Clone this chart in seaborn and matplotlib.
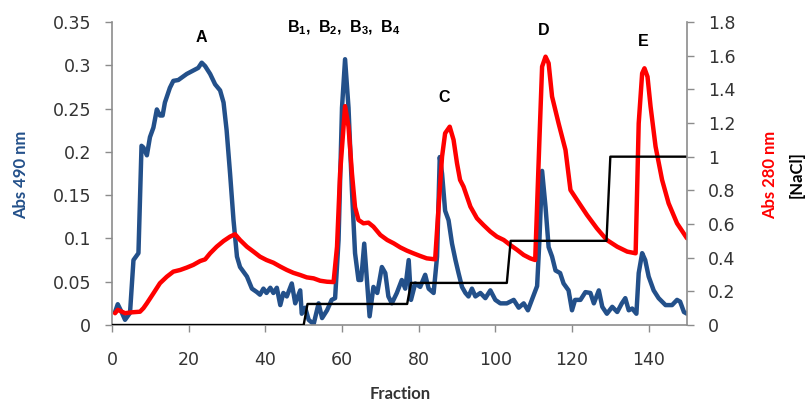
import matplotlib
matplotlib.use("Agg")
import matplotlib.pyplot as plt
import seaborn as sns

# ── Data ─────────────────────────────────────────────────────────────────────
# Abs 490 nm (left axis, blue)
blue_fraction = [
    0.8, 1.5, 2.5, 3.4, 4.7, 5.6, 6.9, 7.7, 8.2, 9.1, 9.9, 10.8, 11.7, 12.5, 13.2,
    13.8, 15.1, 16.0, 17.3, 19.5, 21.2, 22.5, 23.4, 24.3, 25.6, 26.9, 28.2, 29.1,
    29.9, 30.8, 31.7, 32.6, 33.4, 35.2, 36.5, 37.8, 38.6, 39.5, 40.3, 41.3, 42.1,
    43.0, 43.9, 44.7, 45.6, 46.9, 47.8, 49.1, 49.5, 50.4, 51.3, 52.6, 53.9, 54.8,
    56.1, 57.3, 58.2, 59.1, 60.0, 60.8, 61.7, 62.6, 63.4, 64.3, 65.0, 65.8, 66.5,
    67.2, 68.2, 69.2, 70.4, 71.3, 72.1, 73.0, 74.3, 75.6, 76.5, 77.4, 78.0, 79.1,
    80.4, 81.7, 82.6, 83.9, 84.8, 85.5, 86.1, 86.9, 87.8, 88.7, 89.6, 90.4, 91.3,
    92.2, 93.0, 93.9, 94.8, 96.1, 97.4, 98.7, 100.0, 101.3, 103.0, 104.8, 106.1,
    107.4, 108.5, 109.6, 110.9, 111.5, 112.2, 113.1, 113.9, 114.8, 115.7, 116.9,
    117.8, 119.1, 120.0, 120.8, 122.2, 123.5, 124.8, 125.7, 127.0, 127.9, 129.1,
    130.5, 131.8, 133.0, 133.9, 134.8, 135.7, 136.8, 137.4, 138.3, 139.1, 140.0,
    141.3, 142.6, 144.4, 146.1, 147.4, 148.2, 149.2, 150.0,
]
blue_abs490 = [
    0.015, 0.024, 0.015, 0.006, 0.014, 0.075, 0.083, 0.207, 0.205, 0.196, 0.217,
    0.228, 0.249, 0.242, 0.242, 0.257, 0.274, 0.282, 0.283, 0.290, 0.294, 0.297,
    0.303, 0.299, 0.290, 0.278, 0.271, 0.257, 0.225, 0.175, 0.121, 0.079, 0.067,
    0.056, 0.042, 0.038, 0.035, 0.042, 0.037, 0.043, 0.037, 0.043, 0.023, 0.037,
    0.033, 0.048, 0.025, 0.040, 0.013, 0.020, 0.006, 0.001, 0.025, 0.008, 0.017,
    0.029, 0.031, 0.098, 0.251, 0.307, 0.251, 0.155, 0.083, 0.052, 0.052, 0.094,
    0.052, 0.010, 0.044, 0.037, 0.067, 0.060, 0.033, 0.025, 0.037, 0.052, 0.042,
    0.075, 0.029, 0.048, 0.044, 0.058, 0.042, 0.037, 0.079, 0.194, 0.175, 0.132,
    0.121, 0.094, 0.075, 0.060, 0.044, 0.037, 0.033, 0.042, 0.033, 0.037, 0.031,
    0.040, 0.029, 0.025, 0.025, 0.029, 0.020, 0.025, 0.017, 0.030, 0.045, 0.098,
    0.178, 0.136, 0.090, 0.079, 0.063, 0.060, 0.048, 0.040, 0.017, 0.029, 0.029,
    0.038, 0.037, 0.025, 0.040, 0.021, 0.013, 0.021, 0.015, 0.025, 0.031, 0.017,
    0.019, 0.013, 0.060, 0.083, 0.075, 0.056, 0.040, 0.031, 0.023, 0.023, 0.029,
    0.027, 0.015, 0.013,
]

# Abs 280 nm (right axis, red)
red_fraction = [
    0.8, 1.5, 2.5, 3.4, 5.0, 7.3, 8.2, 9.1, 10.8, 12.5, 14.3, 16.0, 17.8, 19.5,
    21.2, 23.0, 24.3, 25.6, 27.3, 29.1, 30.8, 32.1, 33.4, 35.2, 36.9, 38.6, 40.3,
    42.1, 43.9, 45.6, 47.3, 49.1, 50.8, 52.6, 54.3, 56.1, 57.8, 58.7, 59.5, 60.8,
    61.7, 62.6, 63.4, 64.3, 65.6, 66.9, 68.2, 70.0, 71.8, 73.5, 75.2, 76.9, 78.6,
    80.4, 82.1, 84.3, 85.2, 86.1, 86.9, 88.1, 89.1, 90.0, 90.8, 91.7, 93.5, 95.2,
    96.9, 98.7, 100.4, 102.2, 103.9, 105.7, 107.4, 109.1, 110.4, 111.5, 112.2,
    113.1, 113.9, 114.8, 116.5, 118.3, 119.6, 121.3, 123.9, 126.5, 129.1, 131.8,
    134.4, 136.6, 137.4, 138.3, 138.9, 139.7, 140.5, 141.8, 143.5, 145.2, 147.4,
    150.0,
]
red_abs280 = [
    0.07, 0.09, 0.08, 0.07, 0.075, 0.079, 0.10, 0.129, 0.188, 0.248, 0.287, 0.317,
    0.327, 0.341, 0.357, 0.380, 0.39, 0.426, 0.465, 0.499, 0.525, 0.539, 0.505,
    0.465, 0.436, 0.406, 0.386, 0.37, 0.347, 0.327, 0.310, 0.297, 0.283, 0.277,
    0.263, 0.257, 0.255, 0.465, 0.90, 1.30, 1.178, 0.90, 0.70, 0.624, 0.604, 0.608,
    0.584, 0.535, 0.505, 0.485, 0.461, 0.442, 0.426, 0.41, 0.396, 0.39, 0.703, 1.0,
    1.139, 1.178, 1.10, 0.961, 0.862, 0.822, 0.703, 0.634, 0.594, 0.555, 0.525,
    0.505, 0.475, 0.446, 0.416, 0.396, 0.386, 1.10, 1.535, 1.594, 1.555, 1.357,
    1.198, 1.04, 0.802, 0.743, 0.654, 0.574, 0.505, 0.465, 0.436, 0.426, 1.198,
    1.495, 1.525, 1.475, 1.297, 1.06, 0.862, 0.723, 0.604, 0.515,
]

# [NaCl] step gradient (right axis, black)
nacl_fraction = [0, 50, 51, 77, 78, 103, 104, 129, 130, 150]
nacl_conc = [0, 0, 0.125, 0.125, 0.25, 0.25, 0.5, 0.5, 1.0, 1.0]

# Peak annotations
peak_labels = ["A", r"$\mathbf{B_1,\ B_2,\ B_3,\ B_4}$", "C", "D", "E"]
peak_x = [23.4, 60.3, 86.7, 112.6, 138.7]
peak_y = [0.332, 0.343, 0.263, 0.340, 0.328]

x_ticks = [0, 20, 40, 60, 80, 100, 120, 140]
left_ticks = [0, 0.05, 0.1, 0.15, 0.2, 0.25, 0.3, 0.35]
left_tick_labels = ["0", "0.05", "0.1", "0.15", "0.2", "0.25", "0.3", "0.35"]
right_ticks = [0, 0.2, 0.4, 0.6, 0.8, 1.0, 1.2, 1.4, 1.6, 1.8]
right_tick_labels = ["0", "0.2", "0.4", "0.6", "0.8", "1", "1.2", "1.4", "1.6", "1.8"]

# ── Style ────────────────────────────────────────────────────────────────────
BLUE = "#23508a"
RED = "#ff0000"
AXIS_GREY = "#8c8c8c"
TEXT = "#333333"

sns.set_style("white")
plt.rcParams["font.family"] = ["DejaVu Sans"]
plt.rcParams["mathtext.fontset"] = "custom"
plt.rcParams["mathtext.rm"] = "Liberation Sans"
plt.rcParams["mathtext.bf"] = "Liberation Sans:bold"

fig = plt.figure(figsize=(8.1, 4.01), dpi=100)
ax = fig.add_axes([112 / 810, 1 - 325 / 401, 575 / 810, 303 / 401])
ax2 = ax.twinx()

sns.lineplot(x=blue_fraction, y=blue_abs490, ax=ax, color=BLUE, linewidth=3.2,
             sort=False, estimator=None, solid_joinstyle="round")
sns.lineplot(x=red_fraction, y=red_abs280, ax=ax2, color=RED, linewidth=3.2,
             sort=False, estimator=None, solid_joinstyle="round")
sns.lineplot(x=nacl_fraction, y=nacl_conc, ax=ax2, color="black", linewidth=1.7,
             sort=False, estimator=None)

ax.set_xlim(0, 150)
ax.set_ylim(0, 0.35)
ax2.set_ylim(0, 1.8)
ax.set_xticks(x_ticks)
ax.set_xticklabels([str(t) for t in x_ticks])
ax.set_yticks(left_ticks)
ax.set_yticklabels(left_tick_labels)
ax2.set_yticks(right_ticks)
ax2.set_yticklabels(right_tick_labels)
ax.set_xlabel("")
ax.set_ylabel("")
ax2.set_ylabel("")

for a in (ax, ax2):
    for s in a.spines.values():
        s.set_color(AXIS_GREY)
        s.set_linewidth(1.2)
    a.spines["top"].set_visible(False)
ax.spines["right"].set_visible(False)
ax2.spines["left"].set_visible(False)
ax2.spines["bottom"].set_visible(False)

ax.tick_params(axis="y", direction="out", length=5, width=1, color=AXIS_GREY,
               labelsize=12.5, labelcolor=TEXT, pad=10, left=True)
ax.tick_params(axis="x", direction="out", length=5, width=1, color=AXIS_GREY,
               labelsize=12.5, labelcolor=TEXT, pad=14, bottom=True)
ax2.tick_params(axis="y", direction="out", length=5, width=1, color=AXIS_GREY,
                labelsize=12.5, labelcolor=TEXT, pad=10, right=True)

for lab, px, py in zip(peak_labels, peak_x, peak_y):
    ax.text(px, py, lab, ha="center", va="center", fontsize=11.5,
            fontweight="bold", family="Liberation Sans", color="black")

# Axis titles
fig.text(21 / 810, 1 - 175 / 401, "Abs 490 nm", rotation=90, ha="center", va="center",
         fontsize=12, fontweight="bold", family="Lato", color=BLUE)
fig.text(770 / 810, 1 - 175 / 401, "Abs 280 nm", rotation=90, ha="center", va="center",
         fontsize=12, fontweight="bold", family="Lato", color=RED)
fig.text(797 / 810, 1 - 175 / 401, "[NaCl]", rotation=90, ha="center", va="center",
         fontsize=12, fontweight="bold", family="Lato", color="black")
fig.text(400 / 810, 1 - 394 / 401, "Fraction", ha="center", va="center",
         fontsize=12, fontweight="bold", family="Lato", color=TEXT)

fig.savefig("out.png", dpi=100)
